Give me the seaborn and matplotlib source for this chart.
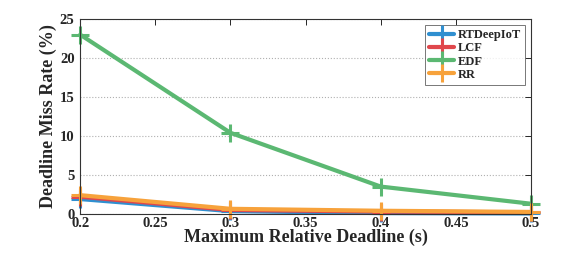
import matplotlib
matplotlib.use("Agg")
import matplotlib.pyplot as plt
import seaborn as sns
import pandas as pd

deadlines = [0.2, 0.3, 0.4, 0.5]
rtdeepiot = [1.9, 0.35, 0.1, 0.05]
lcf = [2.2, 0.5, 0.3, 0.2]
edf = [23.0, 10.4, 3.5, 1.3]
rr = [2.4, 0.65, 0.4, 0.25]

series = ["RTDeepIoT", "LCF", "EDF", "RR"]
colores = ["#2f8fd0", "#e0474c", "#5bb872", "#f7a23b"]

df = pd.DataFrame({
    "deadline": deadlines * 4,
    "rate": rtdeepiot + lcf + edf + rr,
    "metodo": [s for s in series for _ in deadlines],
})

sns.set_style("white")
plt.rcParams["font.family"] = ["Liberation Serif", "DejaVu Serif"]
plt.rcParams["font.weight"] = "bold"

fig = plt.figure(figsize=(5.81, 2.54), dpi=100)
ax = fig.add_axes([0.138, 0.158, 0.776, 0.767])

sns.lineplot(data=df, x="deadline", y="rate", hue="metodo", hue_order=series,
             palette=colores, marker="+", markersize=13, markeredgewidth=2.2,
             linewidth=3, ax=ax, legend=True)

# seaborn pinta el borde del marcador en blanco; el '+' necesita el color de la linea
for linea in ax.lines:
    linea.set_markeredgecolor(linea.get_color())
    linea.set_clip_on(False)

ax.set_xlim(0.2, 0.5)
ax.set_ylim(0, 25)
ax.set_xticks([0.2, 0.25, 0.3, 0.35, 0.4, 0.45, 0.5])
ax.set_xticklabels(["0.2", "0.25", "0.3", "0.35", "0.4", "0.45", "0.5"])
ax.set_yticks([0, 5, 10, 15, 20, 25])
ax.yaxis.grid(True, linestyle=":", color="#b0b0b0", linewidth=0.8)
ax.tick_params(direction="in", top=True, right=True, length=4, width=0.7,
               labelsize=10.5)
ax.tick_params(axis="x", pad=2)
ax.tick_params(axis="y", pad=4)
for lab in ax.get_xticklabels() + ax.get_yticklabels():
    lab.set_fontweight("bold")
for sp in ax.spines.values():
    sp.set_color("#333333")
    sp.set_linewidth(0.8)

ax.set_xlabel("Maximum Relative Deadline (s)", fontsize=13, fontweight="bold", labelpad=-1)
ax.set_ylabel("Deadline Miss Rate (%)", fontsize=13, fontweight="bold", labelpad=2)

leg = ax.legend(loc="upper right", fontsize=9, frameon=True, fancybox=False,
                handlelength=2.0, borderpad=0.3, labelspacing=0.1,
                handletextpad=0.3, borderaxespad=0.5)
leg.get_frame().set_edgecolor("#555555")
leg.get_frame().set_linewidth(0.7)
for h in leg.legend_handles:
    h.set_markeredgecolor(h.get_color())
for t in leg.get_texts():
    t.set_fontweight("bold")

fig.savefig("out.png", dpi=100)
